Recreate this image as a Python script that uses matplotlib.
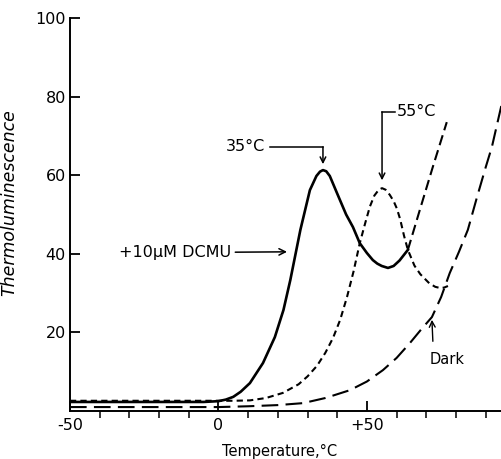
import matplotlib
matplotlib.use("Agg")
import matplotlib.pyplot as plt

# --- glow curves (temperature in degC, thermoluminescence in arbitrary units)
temp_dcmu = [-50, -40, -30, -20, -10, -5, 0, 2.5, 5, 7.5, 10.6, 15, 19, 21.9, 24.2,
             27.6, 30.8, 33, 34.2, 35.2, 36.3, 37.5, 39.9, 43, 45.3, 47.6, 50,
             52, 53.5, 55, 57.1, 59, 61, 63.8]
tl_dcmu = [2.3, 2.3, 2.3, 2.3, 2.3, 2.3, 2.5, 2.9, 3.6, 4.9, 7.1, 12.2, 18.8, 25.7, 33.3,
           46.1, 56.2, 59.8, 60.9, 61.3, 61.0, 59.8, 55.5, 50.0, 46.8, 42.7, 40.2,
           38.4, 37.5, 36.9, 36.4, 36.9, 38.3, 41.0]

# rising tail of the DCMU curve, drawn dashed
temp_dcmu_tail = [63.8, 67.8, 72.2, 76.9]
tl_dcmu_tail = [41.0, 51.1, 62.1, 73.5]

temp_55 = [-50, -30, -10, 0, 5, 10.6, 16, 21.7, 27, 30, 33.2, 36, 38.6, 41, 43.3, 45.5,
           47.6, 49.5, 51, 52.5, 54, 55.1, 56.3, 57.7, 59, 60.1, 61.2, 62.5, 63.8,
           66, 68, 71, 73, 74.6, 76, 77.3]
tl_55 = [2.6, 2.6, 2.6, 2.6, 2.6, 2.7, 3.3, 4.6, 6.8, 8.8, 11.5, 14.8, 18.6, 23.2, 29.0,
         35.5, 42.7, 48.0, 52.0, 54.8, 56.3, 56.7, 56.3, 55.0, 53.4, 51.5, 48.8, 44.6,
         41.0, 37.0, 34.8, 32.5, 31.6, 31.3, 31.4, 31.8]

temp_dark = [-50, -30, -10, 0, 10, 20, 28.5, 36, 44.3, 50, 55.4, 60, 64.5, 68, 71.9,
             75, 77.9, 81, 84, 87, 90, 92.1, 95.5]
tl_dark = [1.0, 1.0, 1.0, 1.0, 1.2, 1.5, 2.0, 3.3, 5.3, 7.5, 10.4, 13.5, 17.3, 20.5, 23.9,
           29.0, 35.1, 40.5, 46.1, 54.2, 62.0, 67.2, 78.4]

peak_dcmu = (35.2, 61.3)
peak_55 = (55.1, 56.7)

fig = plt.figure(figsize=(5.02, 4.59), dpi=100)
ax = fig.add_axes([0.1394, 0.1046, 0.8606, 0.8562])

ax.plot(temp_dcmu, tl_dcmu, color="black", lw=1.9, solid_joinstyle="round")
ax.plot(temp_dcmu_tail, tl_dcmu_tail, color="black", lw=1.5, dashes=(5, 2.5))
ax.plot(temp_55, tl_55, color="black", lw=1.5, dashes=(3, 2))
ax.plot(temp_dark, tl_dark, color="black", lw=1.5, dashes=(8, 3.5))

ax.set_xlim(-50, 95.5)
ax.set_ylim(0, 100)

for s in ["top", "right"]:
    ax.spines[s].set_visible(False)
for s in ["left", "bottom"]:
    ax.spines[s].set_linewidth(1.4)

ax.set_xticks([-50, 0, 50])
ax.set_xticklabels(["-50", "0", "+50"])
ax.set_xticks(range(-40, 95, 10), minor=True)
ax.set_yticks([20, 40, 60, 80, 100])
ax.tick_params(axis="both", direction="in", labelsize=11.5, width=1.3)
ax.tick_params(axis="x", which="major", length=7, pad=5)
ax.tick_params(axis="x", which="minor", length=5, width=1.1)
ax.tick_params(axis="y", which="major", length=7, pad=3)

ax.set_xlabel("Temperature,°C", fontsize=10.5, labelpad=4)
ax.xaxis.set_label_coords(0.485, -0.085)
ax.set_ylabel("Thermoluminescence", fontsize=12.5, style="italic", labelpad=6)
ax.yaxis.set_label_coords(-0.12, 0.53)

arrow = dict(arrowstyle="->", color="black", lw=1.1, shrinkA=0, shrinkB=0)

# 35 degC peak marker
ax.plot([17.3, peak_dcmu[0]], [67.2, 67.2], color="black", lw=1.1)
ax.annotate("", xy=(peak_dcmu[0], peak_dcmu[1] + 1.5), xytext=(peak_dcmu[0], 67.2),
            arrowprops=arrow)
ax.text(15.6, 67.2, "35°C", ha="right", va="center", fontsize=11.5)

# 55 degC peak marker
ax.plot([peak_55[0], 59.5], [76.1, 76.1], color="black", lw=1.1)
ax.annotate("", xy=(peak_55[0], peak_55[1] + 2), xytext=(peak_55[0], 76.1),
            arrowprops=arrow)
ax.text(60.2, 76.3, "55°C", ha="left", va="center", fontsize=11.5)

ax.annotate("+10µM DCMU", xy=(23.1, 40.5), xytext=(-33.5, 40.3),
            ha="left", va="center", fontsize=11.5,
            arrowprops=dict(arrowstyle="->", color="black", lw=1.1, shrinkA=1, shrinkB=0))

ax.annotate("Dark", xy=(71.9, 23.2), xytext=(71.2, 13.0),
            ha="left", va="center", fontsize=10.5,
            arrowprops=dict(arrowstyle="->", color="black", lw=1.0,
                            shrinkA=6, shrinkB=0, relpos=(0.1, 1.0)))

fig.savefig("out.png", dpi=100)
